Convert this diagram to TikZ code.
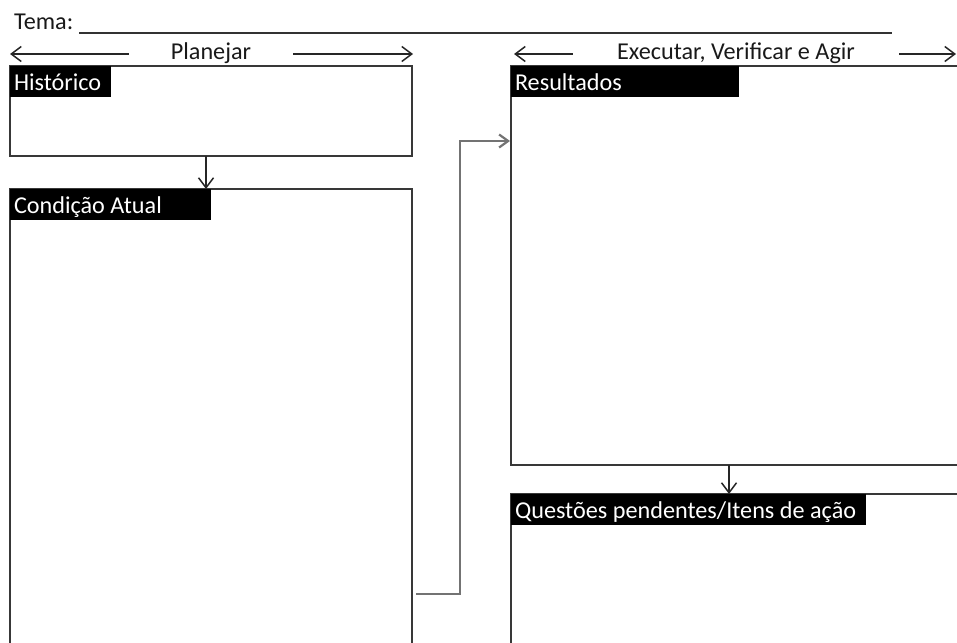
\documentclass[tikz,border=0pt]{standalone}
\usepackage{fontspec}
\setmainfont{Carlito}
\usetikzlibrary{arrows.meta}
\definecolor{framecol}{gray}{0.22}
\definecolor{linkcol}{gray}{0.45}
\definecolor{textcol}{gray}{0.1}
\tikzset{
  txt/.style={font=\fontsize{24.2}{29}\selectfont,text=textcol},
  box/.style={draw=framecol,line width=2pt,rectangle,inner sep=0pt,outer sep=0pt,anchor=north west},
  tag/.style={txt,fill=black,text=white,anchor=north west,inner xsep=4pt,inner ysep=0pt,outer sep=0pt,minimum height=31pt,text height=20pt,text depth=3pt,align=flush left,text width=#1},
  hdr/.style={txt,inner xsep=42pt,inner ysep=0pt,text height=16pt,text depth=5pt},
  arr/.style={draw=black!85,line width=1.5pt,-{Straight Barb[length=10pt,width=15pt]}},
  link/.style={draw=linkcol,line width=2.2pt,-{Straight Barb[length=9pt,width=13pt]}},
  rule/.style={draw=black!80,line width=1.5pt},
}
\begin{document}
\begin{tikzpicture}[x=1pt,y=-1pt]
  \useasboundingbox (0,0) rectangle (957,642);
  \clip (0,0) rectangle (957,642);
  % theme line
  \node[txt,anchor=base west,inner sep=0pt] (tema) at (14,30) {Tema:};
  \coordinate (temaR) at (892,33);
  \draw[rule] ([xshift=6pt,yshift=-3pt]tema.base east) -- (temaR);
  % headers
  \node[hdr] (plan) at (211,54) {Planejar};
  \coordinate (planL) at (10,54);
  \coordinate (planR) at (413,54);
  \draw[arr] (plan.west) -- (planL);
  \draw[arr] (plan.east) -- (planR);
  \node[hdr,inner xsep=44pt] (exec) at (736,54) {Executar, Verificar e Agir};
  \coordinate (execL) at (514,54);
  \coordinate (execR) at (956,54);
  \draw[arr] (exec.west) -- (execL);
  \draw[arr] (exec.east) -- (execR);
  % boxes
  \node[box,minimum width=402pt,minimum height=90pt] (hist) at (10,66) {};
  \node[box,minimum width=402pt,minimum height=480pt] (cond) at (10,189) {};
  \node[box,minimum width=489pt,minimum height=399pt] (res) at (511,66) {};
  \node[box,minimum width=489pt,minimum height=220pt] (quest) at (511,494) {};
  \node[tag=93pt] (histT) at (hist.north west) {Histórico};
  \node[tag=193pt] (condT) at (cond.north west) {Condição Atual};
  \node[tag=220pt] (resT) at (res.north west) {Resultados};
  \node[tag=347pt] (questT) at (quest.north west) {Questões pendentes/Itens de ação};
  % flow
  \draw[arr] ([xshift=-5pt]hist.south) -- ([xshift=-5pt]cond.north);
  \draw[arr] ([xshift=-26.5pt]res.south) -- ([xshift=-26.5pt]quest.north);
  \draw[link] ([xshift=4pt,yshift=75pt]cond.south east) -- ++(44,0) |- ([xshift=-1pt,yshift=-75pt]res.north west);
\end{tikzpicture}
\end{document}
